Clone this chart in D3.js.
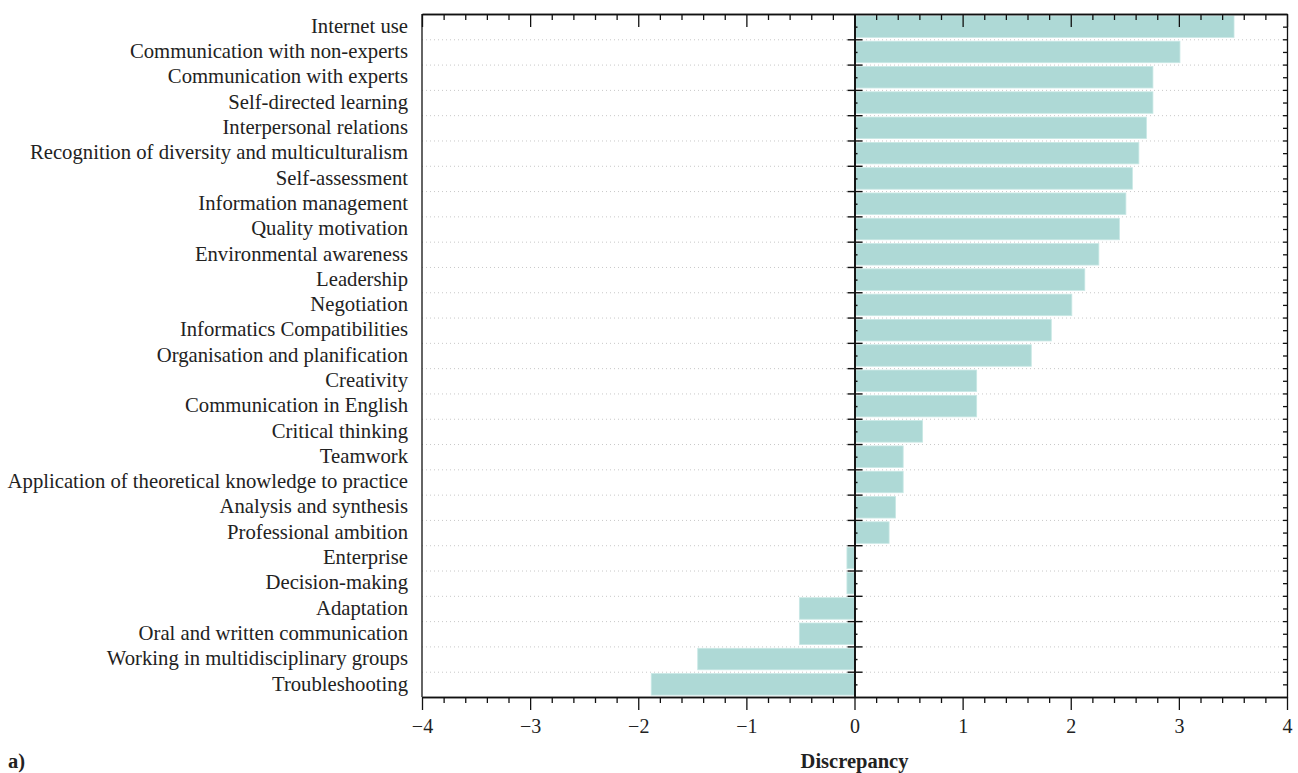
<!DOCTYPE html>
<html>
<head>
<meta charset="utf-8">
<script src="https://cdn.jsdelivr.net/npm/d3@7"></script>
<style>
  body { margin: 0; background: #fff; }
  svg text { font-family: "Liberation Serif", "DejaVu Serif", serif; fill: #222; }
</style>
</head>
<body>
<div id="rootDiv"></div>
<script>
const categories = [
    "Internet use",
    "Communication with non-experts",
    "Communication with experts",
    "Self-directed learning",
    "Interpersonal relations",
    "Recognition of diversity and multiculturalism",
    "Self-assessment",
    "Information management",
    "Quality motivation",
    "Environmental awareness",
    "Leadership",
    "Negotiation",
    "Informatics Compatibilities",
    "Organisation and planification",
    "Creativity",
    "Communication in English",
    "Critical thinking",
    "Teamwork",
    "Application of theoretical knowledge to practice",
    "Analysis and synthesis",
    "Professional ambition",
    "Enterprise",
    "Decision-making",
    "Adaptation",
    "Oral and written communication",
    "Working in multidisciplinary groups",
    "Troubleshooting",
]
const discrepancy = [
    3.51, 3.01, 2.76, 2.76, 2.70, 2.63, 2.57, 2.51, 2.45, 2.26,
    2.13, 2.01, 1.82, 1.635, 1.13, 1.13, 0.63, 0.45, 0.45, 0.38,
    0.32, -0.07, -0.07, -0.51, -0.51, -1.45, -1.88,
]
const xTicks = [-4, -3, -2, -1, 0, 1, 2, 3, 4]
const xTitle = "Discrepancy"
const panelLabel = "a)"

const width = 1298;
const height = 773;
const margin = { top: 14, right: 11, bottom: 76, left: 422 };
const barColor = "#aed9d6";

const svg = d3.select(document.getElementById("rootDiv"))
    .append("svg")
    .attr("width", width)
    .attr("height", height)

const x = d3.scaleLinear()
    .domain([-4, 4])
    .range([margin.left, width - margin.right])

const y = d3.scaleBand()
    .domain(categories)
    .range([margin.top, height - margin.bottom])
    .paddingInner(0.15)
    .paddingOuter(0.075)

// category boundaries / centres as index scale
const yIdx = d3.scaleLinear()
    .domain([0, categories.length])
    .range([margin.top, height - margin.bottom])
const bounds = d3.range(1, categories.length)
const halves = d3.range(0, categories.length).map(i => i + 0.5)

// dotted grid at category boundaries
svg.append("g")
    .attr("transform", `translate(${margin.left},0)`)
    .call(d3.axisRight(yIdx).tickValues(bounds).tickSize(width - margin.right - margin.left).tickFormat(""))
    .call(g => g.select(".domain").remove())
    .selectAll("line")
    .attr("stroke", "#c8c8c8")
    .attr("stroke-dasharray", "1,3")

// Draw bars
svg.selectAll("rect.bar")
    .data(discrepancy)
    .enter()
    .append("rect")
    .attr("class", "bar")
    .attr("x", d => x(Math.min(0, d)))
    .attr("y", (_d, i) => y(categories[i]))
    .attr("width", d => Math.abs(x(d) - x(0)))
    .attr("height", y.bandwidth())
    .attr("fill", barColor)
    .attr("stroke", "#c8e8e5")
    .attr("stroke-width", 0.8)

// frame: left edge
svg.append("line")
    .attr("x1", margin.left).attr("x2", margin.left)
    .attr("y1", margin.top).attr("y2", height - margin.bottom)
    .attr("stroke", "#111").attr("stroke-width", 1.3)

// right edge with small inward ticks
svg.append("g")
    .attr("transform", `translate(${width - margin.right},0)`)
    .call(d3.axisLeft(yIdx).tickValues(d3.range(0.5, categories.length, 0.5)).tickSize(4).tickSizeOuter(0).tickFormat(""))
    .call(g => g.selectAll("path,line").attr("stroke", "#111").attr("stroke-width", 1.3))

const minor = d3.range(-4, 4.001, 0.2).map(v => +v.toFixed(1)).filter(v => !xTicks.includes(v))

// top axis: ticks pointing down into plot
const topAxis = svg.append("g").attr("transform", `translate(0,${margin.top})`)
topAxis.append("g")
    .call(d3.axisBottom(x).tickValues(xTicks).tickSize(13).tickSizeOuter(0).tickFormat(""))
topAxis.append("g")
    .call(d3.axisBottom(x).tickValues(minor).tickSize(6).tickSizeOuter(0).tickFormat(""))
topAxis.selectAll("path,line").attr("stroke", "#111").attr("stroke-width", 1.3)

// bottom axis: ticks pointing down, labels
const bottomAxis = svg.append("g").attr("transform", `translate(0,${height - margin.bottom})`)
bottomAxis.append("g")
    .call(d3.axisBottom(x).tickValues(minor).tickSize(6).tickSizeOuter(0).tickFormat(""))
const xAxis = bottomAxis.append("g")
    .call(d3.axisBottom(x).tickValues(xTicks).tickSize(13).tickSizeOuter(0).tickPadding(9)
        .tickFormat(d => d < 0 ? "\u2212" + Math.abs(d) : String(d)))
bottomAxis.selectAll("path,line").attr("stroke", "#111").attr("stroke-width", 1.3)
xAxis.selectAll("text")
    .attr("font-size", 20)
    .style("font-family", '"Liberation Serif", serif')
    .attr("fill", "#222")

// zero line with category ticks
const zero = svg.append("g").attr("transform", `translate(${x(0)},0)`)
zero.append("g")
    .call(d3.axisLeft(yIdx).tickValues(bounds).tickSize(7).tickSizeOuter(0).tickFormat(""))
zero.append("g")
    .call(d3.axisRight(yIdx).tickValues(bounds).tickSize(8).tickSizeOuter(0).tickFormat(""))
zero.append("g")
    .call(d3.axisRight(yIdx).tickValues(halves).tickSize(3).tickSizeOuter(0).tickFormat(""))
zero.selectAll("path,line").attr("stroke", "#111").attr("stroke-width", 1.4)

// category labels
svg.selectAll("text.cat")
    .data(categories)
    .enter()
    .append("text")
    .attr("class", "cat")
    .attr("x", margin.left - 14)
    .attr("y", d => y(d) + y.bandwidth() / 2)
    .attr("dy", "0.3em")
    .attr("text-anchor", "end")
    .attr("font-size", 20.7)
    .text(d => d)

svg.append("text")
    .attr("x", x(0))
    .attr("y", 768)
    .attr("text-anchor", "middle")
    .attr("font-size", 20.5)
    .attr("font-weight", "bold")
    .text(xTitle)

svg.append("text")
    .attr("x", 8)
    .attr("y", 768)
    .attr("font-size", 20.5)
    .attr("font-weight", "bold")
    .text(panelLabel)
</script>
</body>
</html>
